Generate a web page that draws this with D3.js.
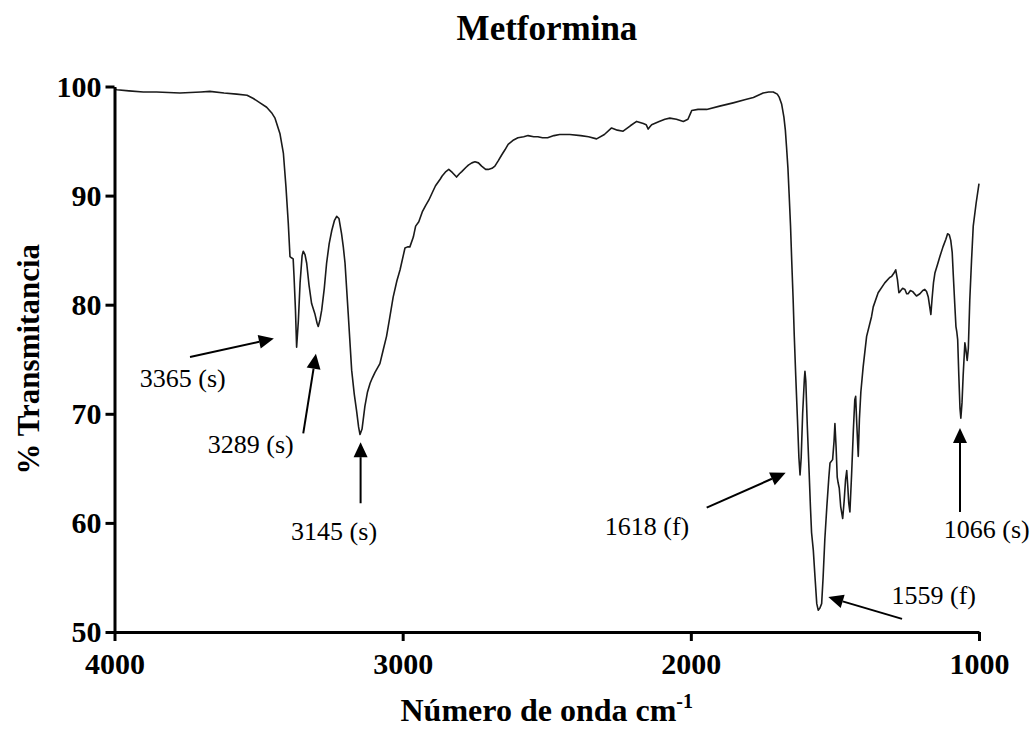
<!doctype html>
<html lang="en">
<head>
<meta charset="utf-8">
<title>Metformina</title>
<script src="https://cdn.jsdelivr.net/npm/d3@7"></script>
<style>
  body { margin: 0; background: #fff; }
</style>
</head>
<body>
<script>

// spectrum (wavenumber cm-1, % transmittance)
var wavenumber = [4000, 3992, 3950, 3900, 3854, 3773, 3700, 3669, 3620, 3576, 3540, 3518, 3495, 3472, 3455, 3443, 3426, 3414, 3405, 3397,
    3391, 3386, 3380, 3377, 3372, 3368, 3362, 3356, 3349, 3345, 3339, 3333, 3325, 3316, 3305, 3297, 3293, 3287, 3281, 3272,
    3264, 3255, 3246, 3237, 3229, 3221, 3212, 3206, 3200, 3189, 3177, 3168, 3160, 3153, 3148, 3141, 3131, 3122, 3113, 3105,
    3096, 3079, 3068, 3056, 3045, 3033, 3020, 3009, 2992, 2983, 2975, 2963, 2955, 2944, 2932, 2920, 2909, 2895, 2886, 2870,
    2863, 2850, 2840, 2827, 2813, 2803, 2795, 2780, 2772, 2760, 2749, 2737, 2726, 2712, 2703, 2690, 2680, 2668, 2657, 2645,
    2634, 2615, 2600, 2580, 2565, 2545, 2531, 2515, 2497, 2475, 2455, 2420, 2382, 2355, 2327, 2300, 2275, 2255, 2235, 2210,
    2188, 2165, 2155, 2148, 2142, 2136, 2110, 2090, 2073, 2050, 2026, 2010, 2000, 1997, 1975, 1945, 1900, 1853, 1810, 1783,
    1749, 1730, 1714, 1700, 1693, 1685, 1677, 1672, 1668, 1663, 1659, 1654, 1650, 1645, 1641, 1636, 1630, 1625, 1621, 1617,
    1612, 1606, 1604, 1601, 1596, 1590, 1585, 1581, 1575, 1569, 1563, 1558, 1552, 1546, 1541, 1535, 1528, 1521, 1517, 1508,
    1503, 1500, 1496, 1492, 1489, 1485, 1480, 1473, 1468, 1463, 1459, 1455, 1452, 1448, 1442, 1436, 1431, 1428, 1424, 1419,
    1415, 1410, 1402, 1390, 1373, 1367, 1350, 1327, 1310, 1303, 1295, 1289, 1283, 1278, 1274, 1265, 1257, 1251, 1246, 1238,
    1230, 1217, 1205, 1195, 1188, 1182, 1176, 1171, 1167, 1163, 1158, 1153, 1145, 1136, 1125, 1115, 1109, 1103, 1098, 1093,
    1089, 1084, 1080, 1077, 1074, 1070, 1066, 1063, 1059, 1055, 1051, 1049, 1046, 1041, 1037, 1032, 1026, 1020, 1010, 1000];

var transmittance = [99.8, 99.7, 99.6, 99.5, 99.5, 99.4, 99.5, 99.55, 99.4, 99.3, 99.2, 98.9, 98.5, 98.1, 97.6, 97.1, 95.7, 93.9, 90.8, 87.5,
    84.4, 84.3, 84.2, 82.6, 79.5, 76.1, 78.5, 82.0, 84.5, 84.9, 84.6, 83.8, 81.8, 80.1, 79.2, 78.3, 78.0, 78.6, 79.5, 81.5,
    83.8, 85.6, 86.8, 87.7, 88.1, 87.9, 86.5, 85.3, 83.8, 79.2, 74.0, 71.8, 70.3, 68.8, 68.1, 68.6, 70.7, 72.0, 72.8, 73.3,
    73.8, 74.6, 75.8, 77.1, 78.8, 80.7, 82.2, 83.2, 85.2, 85.3, 85.3, 86.2, 87.2, 87.6, 88.5, 89.1, 89.6, 90.4, 90.9, 91.5,
    91.8, 92.2, 92.4, 92.1, 91.7, 92.0, 92.2, 92.6, 92.8, 93.0, 93.1, 93.0, 92.7, 92.4, 92.4, 92.5, 92.7, 93.2, 93.7, 94.2,
    94.7, 95.1, 95.3, 95.4, 95.5, 95.4, 95.4, 95.3, 95.3, 95.5, 95.6, 95.6, 95.5, 95.4, 95.2, 95.6, 96.2, 96.0, 95.9, 96.4,
    96.8, 96.6, 96.5, 96.1, 96.3, 96.5, 96.8, 97.0, 97.1, 97.0, 96.8, 97.0, 97.6, 97.8, 97.9, 97.9, 98.2, 98.5, 98.8, 99.0,
    99.4, 99.5, 99.5, 99.3, 99.0, 98.4, 97.2, 96.0, 94.5, 92.5, 90.2, 87.2, 84.1, 80.5, 77.1, 73.5, 69.5, 66.0, 64.4, 66.0,
    70.0, 73.2, 73.9, 73.0, 69.0, 65.0, 61.5, 59.1, 57.5, 55.0, 52.6, 52.0, 52.2, 52.6, 55.0, 58.5, 61.5, 64.2, 65.5, 65.8,
    67.5, 69.1, 67.0, 64.2, 63.7, 63.2, 61.5, 60.4, 62.0, 64.0, 64.8, 63.2, 61.8, 61.0, 64.5, 68.5, 71.3, 71.6, 69.0, 66.1,
    69.5, 72.0, 74.3, 77.1, 78.9, 79.8, 81.1, 82.0, 82.5, 82.6, 82.9, 83.2, 82.3, 81.1, 81.2, 81.5, 81.4, 81.0, 81.0, 81.3,
    81.2, 80.8, 81.0, 81.3, 81.4, 81.2, 80.7, 79.8, 79.1, 80.5, 82.0, 82.9, 83.6, 84.4, 85.3, 86.0, 86.5, 86.4, 85.9, 84.8,
    82.6, 80.0, 78.0, 77.5, 76.8, 73.5, 70.5, 69.6, 71.0, 73.5, 75.5, 76.5, 76.0, 74.9, 76.0, 80.4, 84.0, 87.2, 89.3, 91.1];

// axis ticks
var xTicks = [4000, 3000, 2000, 1000];
var yTicks = [50, 60, 70, 80, 90, 100];

// peak annotations: label, arrow tail, arrow tip, label anchor (all in data units)
var peakLabels = ["3365 (s)", "3289 (s)", "3145 (s)", "1618 (f)", "1559 (f)", "1066 (s)"];
var tailWn = [3738, 3345, 3146, 1945, 1267, 1066];
var tailT = [75.2, 68.2, 61.8, 61.4, 51.2, 61.0];
var tipWn = [3447, 3301, 3146, 1671, 1523, 1066];
var tipT = [76.9, 75.5, 67.4, 64.6, 53.2, 68.7];
var labelWn = [3763, 3527, 3238, 2152, 1157, 973];
var labelT = [72.5, 66.4, 58.4, 58.9, 52.6, 58.6];

var width = 1034;
var height = 730;
var serif = "'Liberation Serif', 'Times New Roman', serif";

var x = d3.scaleLinear().domain([4000, 1000]).range([114.5, 979]);
var y = d3.scaleLinear().domain([50, 100]).range([632, 86.5]);

var svg = d3.select("body").append("svg")
    .attr("width", width)
    .attr("height", height);

// title
svg.append("text")
    .attr("x", 547).attr("y", 40)
    .attr("text-anchor", "middle")
    .style("font-family", serif)
    .style("font-size", "35px").style("font-weight", "bold")
    .text("Metformina");

// spectrum line
var points = wavenumber.map(function(w, i) { return [w, transmittance[i]]; });

svg.append("path")
    .datum(points)
    .attr("fill", "none")
    .attr("stroke", "#1a1a1a")
    .attr("stroke-width", 1.6)
    .attr("stroke-linejoin", "round")
    .attr("d", d3.line().x(function(d) { return x(d[0]); }).y(function(d) { return y(d[1]); }));

// axes
var xAxis = svg.append("g")
    .attr("transform", "translate(0," + y(50) + ")")
    .call(d3.axisBottom(x).tickValues(xTicks).tickFormat(d3.format("d")).tickSize(9).tickSizeOuter(0).tickPadding(12));

var yAxis = svg.append("g")
    .attr("transform", "translate(" + x(4000) + ",0)")
    .call(d3.axisLeft(y).tickValues(yTicks).tickFormat(d3.format("d")).tickSize(9).tickSizeOuter(0).tickPadding(4));

[xAxis, yAxis].forEach(function(g) {
    g.select(".domain").attr("stroke", "#000").attr("stroke-width", 3);
    g.selectAll(".tick line").attr("stroke", "#000").attr("stroke-width", 3);
    g.selectAll(".tick text")
        .style("font-family", serif)
        .style("font-size", "30px").style("font-weight", "bold").attr("fill", "#000");
});

// axis titles
var xTitle = svg.append("text")
    .attr("x", (x(4000) + x(1000)) / 2).attr("y", 721)
    .attr("text-anchor", "middle")
    .style("font-family", serif)
    .style("font-size", "32px").style("font-weight", "bold");
xTitle.append("tspan").text("Número de onda cm");
xTitle.append("tspan").attr("dy", -13).style("font-size", "20px").text("-1");

svg.append("text")
    .attr("transform", "translate(39," + (y(50) + y(100)) / 2 + ") rotate(-90)")
    .attr("text-anchor", "middle")
    .style("font-family", serif)
    .style("font-size", "31px").style("font-weight", "bold")
    .text("% Transmitancia");

// arrows with filled heads
var headLen = 15, headHalf = 7;

peakLabels.forEach(function(label, i) {

    var x0 = x(tailWn[i]), y0 = y(tailT[i]);
    var x1 = x(tipWn[i]), y1 = y(tipT[i]);
    var dx = x1 - x0, dy = y1 - y0;
    var len = Math.sqrt(dx * dx + dy * dy);
    var ux = dx / len, uy = dy / len;
    var bx = x1 - ux * headLen, by = y1 - uy * headLen;

    svg.append("line")
        .attr("x1", x0).attr("y1", y0)
        .attr("x2", bx).attr("y2", by)
        .attr("stroke", "#000").attr("stroke-width", 2);

    svg.append("path")
        .attr("d", "M" + x1 + "," + y1 +
                   "L" + (bx - uy * headHalf) + "," + (by + ux * headHalf) +
                   "L" + (bx + uy * headHalf) + "," + (by - ux * headHalf) + "Z")
        .attr("fill", "#000");

    svg.append("text")
        .attr("x", x(labelWn[i])).attr("y", y(labelT[i]))
        .attr("text-anchor", "middle")
        .style("font-family", serif)
        .style("font-size", "26px")
        .text(label);

});

</script>
</body>
</html>
